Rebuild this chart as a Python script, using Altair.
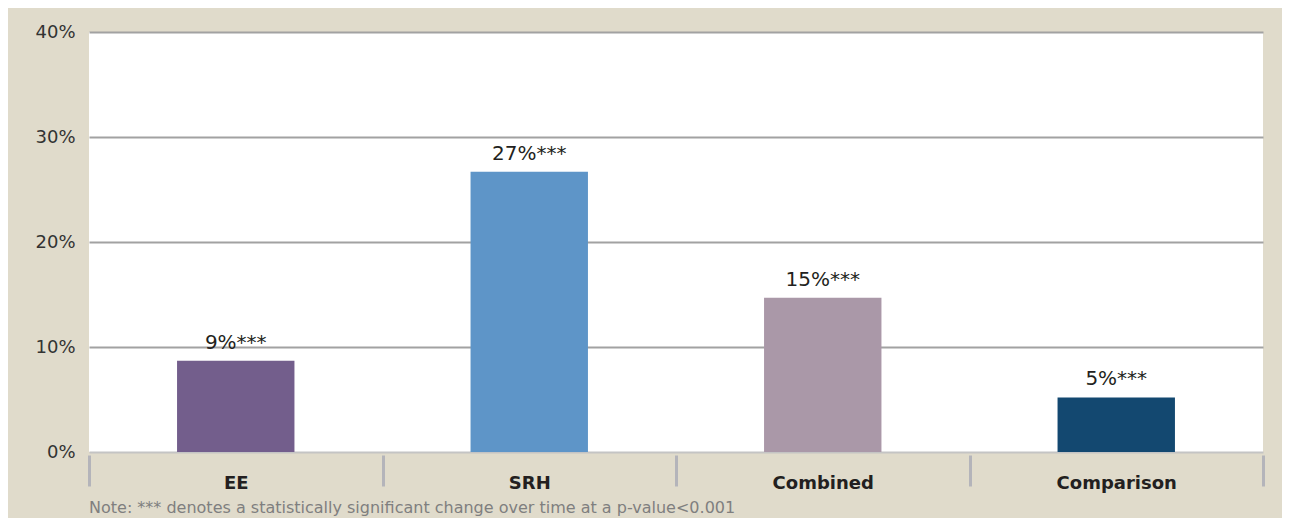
import altair as alt
import pandas as pd

categories = ["EE", "SRH", "Combined", "Comparison"]
values = [8.7, 26.7, 14.7, 5.2]
labels = ["9%***", "27%***", "15%***", "5%***"]
colors = ["#735e8c", "#5e95c8", "#aa98a8", "#134870"]
y_ticks = [0, 10, 20, 30, 40]
note = "Note: *** denotes a statistically significant change over time at a p-value<0.001"

FONT = "DejaVu Sans"

df = pd.DataFrame({"cat": categories, "val": values, "label": labels, "color": colors})

x_enc = alt.X(
    "cat:N",
    sort=categories,
    scale=alt.Scale(paddingInner=0, paddingOuter=0),
    axis=alt.Axis(
        title=None,
        labelAngle=0,
        domain=False,
        tickBand="extent",
        tickSize=31,
        tickWidth=3,
        tickColor="#b4b4ba",
        offset=3,
        labelFont=FONT,
        labelFontWeight="bold",
        labelFontSize=18,
        labelColor="#231f20",
        labelBaseline="alphabetic",
        labelPadding=2,
    ),
)
y_enc = alt.Y(
    "val:Q",
    scale=alt.Scale(domain=[0, 40], nice=False),
    axis=alt.Axis(
        title=None,
        values=y_ticks,
        domain=False,
        ticks=False,
        grid=True,
        gridColor=alt.condition("datum.value == 0", alt.value("#c4c4c4"), alt.value("#a2a2a2")),
        gridWidth=2,
        labelExpr="datum.value + '%'",
        labelFont=FONT,
        labelFontSize=18,
        labelColor="#333333",
        labelPadding=14,
    ),
)

bars = alt.Chart(df).mark_bar(width=alt.RelativeBandSize(0.4)).encode(
    x=x_enc,
    y=y_enc,
    color=alt.Color("color:N", scale=None),
)

text = alt.Chart(df).mark_text(
    dy=-12, baseline="alphabetic", fontSize=20, font=FONT, color="#231f20"
).encode(
    x=alt.X("cat:N", sort=categories),
    y=alt.Y("val:Q"),
    text="label:N",
)

note_df = pd.DataFrame({"t": [note]})
note_mark = alt.Chart(note_df).mark_text(
    align="left", baseline="alphabetic", fontSize=16, font=FONT, color="#7f7f7f"
).encode(x=alt.value(0), y=alt.value(481), text="t:N")

chart = (
    alt.layer(bars, text, note_mark)
    .properties(
        width=1174,
        height=420,
        autosize=alt.AutoSizeParams(type="none"),
        padding={"left": 81, "top": 24, "right": 19, "bottom": 66},
        background="#e0dbcb",
    )
    .configure_view(fill="white", stroke=None)
)

chart.save("out.html", embed_options={"renderer": "svg", "actions": False})
